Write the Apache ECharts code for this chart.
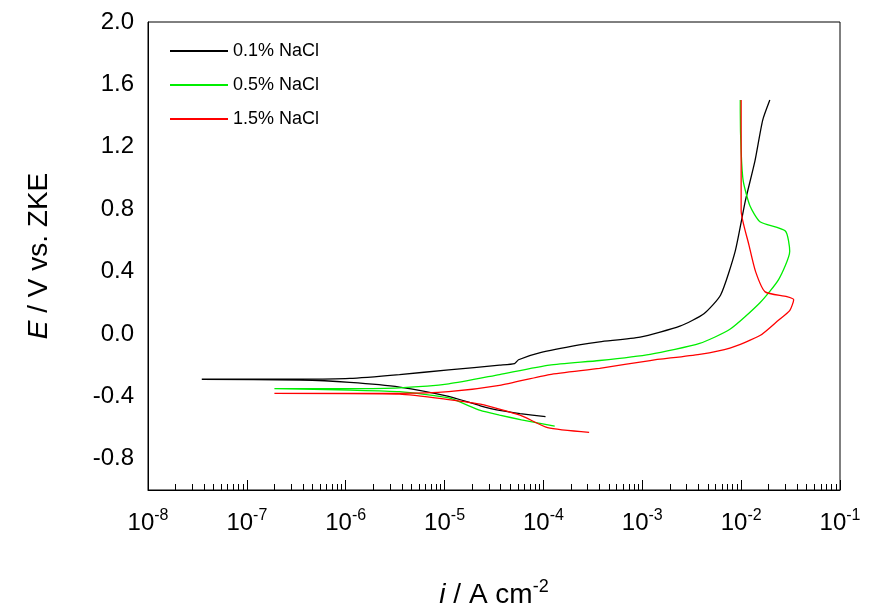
<!DOCTYPE html>
<html><head><meta charset="utf-8">
<script src="https://cdn.jsdelivr.net/npm/echarts@6/dist/echarts.min.js"></script>
<style>html,body{margin:0;padding:0;background:#fff}#c{width:871px;height:614px}</style>
</head><body><div id="c"></div>
<script>
var names = ['0.1% NaCl', '0.5% NaCl', '1.5% NaCl'];
var colors = ['#000000', '#00ee00', '#ff0000'];

// [i (A cm-2), E (V)] - cathodic branch then anodic branch
var black = [
  [1.05e-4, -0.53], [5.8e-5, -0.51], [3.6e-5, -0.49], [2.3e-5, -0.46], [1.1e-5, -0.40],
  [3.5e-6, -0.34], [1.1e-6, -0.31], [3.5e-7, -0.295], [3.5e-8, -0.29],
  [3.5e-7, -0.29], [1.1e-6, -0.285], [3.5e-6, -0.26], [1.1e-5, -0.23], [3.6e-5, -0.20],
  [5.1e-5, -0.19], [5.6e-5, -0.165], [9.3e-5, -0.12], [2.3e-4, -0.07], [3.7e-4, -0.05],
  [9.5e-4, -0.02], [2.4e-3, 0.05], [4.2e-3, 0.13], [6.2e-3, 0.25], [8.7e-3, 0.53],
  [1.1e-2, 0.85], [1.38e-2, 1.11], [1.65e-2, 1.37], [1.95e-2, 1.5]
];
var green = [
  [1.3e-4, -0.59], [6e-5, -0.55], [3.6e-5, -0.52], [2.3e-5, -0.49], [1.1e-5, -0.41],
  [3.5e-6, -0.37], [1.1e-6, -0.36], [1.9e-7, -0.35],
  [1.1e-6, -0.35], [3.5e-6, -0.345], [1.1e-5, -0.32], [3.6e-5, -0.26], [1.15e-4, -0.20],
  [3.7e-4, -0.17], [1.2e-3, -0.13], [3.8e-3, -0.06], [7.7e-3, 0.03], [1.55e-2, 0.20],
  [2.4e-2, 0.35], [3.1e-2, 0.53], [2.8e-2, 0.66], [1.55e-2, 0.72], [1.23e-2, 0.82],
  [1.05e-2, 0.98], [1.0e-2, 1.17], [9.8e-3, 1.43], [9.8e-3, 1.5]
];
var red = [
  [2.9e-4, -0.63], [1.1e-4, -0.60], [5.8e-5, -0.52], [2.3e-5, -0.45], [1.1e-5, -0.42],
  [3.5e-6, -0.385], [1.9e-7, -0.38],
  [3.5e-6, -0.38], [1.1e-5, -0.37], [3.6e-5, -0.33], [1.15e-4, -0.26], [3.7e-4, -0.22],
  [1.2e-3, -0.17], [3.8e-3, -0.13], [7.7e-3, -0.09], [1.55e-2, -0.01], [2.4e-2, 0.09],
  [3.1e-2, 0.15], [3.4e-2, 0.22], [2.9e-2, 0.24], [1.75e-2, 0.27], [1.4e-2, 0.40],
  [1.2e-2, 0.57], [1.0e-2, 0.79], [1.0e-2, 1.18], [1.0e-2, 1.5]
];
var seriesData = [black, green, red];

var chart = echarts.init(document.getElementById('c'));
var font = 'Liberation Sans, Arial, sans-serif';
chart.setOption({
  animation: false,
  grid: { left: 148, right: 31, top: 22, bottom: 124, show: true, borderColor: '#000', borderWidth: 1 },
  legend: {
    show: true, orient: 'vertical', left: 165, top: 37, itemWidth: 58, itemHeight: 2, itemGap: 16,
    icon: 'rect',
    textStyle: { fontFamily: font, fontSize: 18, color: '#000' }
  },
  xAxis: {
    type: 'log', min: 1e-8, max: 1e-1, logBase: 10,
    name: '{i|i} / A cm{sup|-2}', nameLocation: 'middle', nameGap: 88,
    nameTextStyle: { fontFamily: font, fontSize: 28, color: '#000',
      rich: { i: { fontStyle: 'italic', fontSize: 28, fontFamily: font }, sup: { fontSize: 18, verticalAlign: 'top', padding: [0, 0, 16, 0], fontFamily: font } } },
    axisLine: { show: true, onZero: false, lineStyle: { color: '#000' } },
    axisTick: { show: true, inside: true, length: 10, lineStyle: { color: '#000' } },
    minorTick: { show: true, splitNumber: 10, length: 6, lineStyle: { color: '#000' } },
    splitLine: { show: false },
    axisLabel: {
      margin: 18, color: '#000',
      formatter: function (v) { return '10{s|' + Math.round(Math.log10(v)) + '}'; },
      fontFamily: font, fontSize: 24,
      rich: { s: { fontSize: 16, verticalAlign: 'top', padding: [0, 0, 14, 0], fontFamily: font } }
    }
  },
  yAxis: {
    type: 'value', min: -1.0, max: 2.0, interval: 0.2,
    name: '{e|E} / V vs. ZKE', nameLocation: 'middle', nameGap: 95,
    nameTextStyle: { fontFamily: font, fontSize: 28, color: '#000',
      rich: { e: { fontStyle: 'italic', fontSize: 28, fontFamily: font } } },
    axisLine: { show: true, lineStyle: { color: '#000' } },
    axisTick: { show: false },
    splitLine: { show: false },
    axisLabel: {
      color: '#000', fontFamily: font, fontSize: 24, margin: 14,
      formatter: function (v) {
        var k = Math.round((v + 0.8) * 10);
        return (k % 4 === 0 && v > -0.95) ? v.toFixed(1) : '';
      }
    }
  },
  series: seriesData.map(function (d, i) {
    return { name: names[i], type: 'line', data: d, symbol: 'none', showSymbol: false,
      smooth: 0.2, itemStyle: { color: colors[i] },
      lineStyle: { width: 1.3, color: colors[i] } };
  })
});
</script></body></html>
